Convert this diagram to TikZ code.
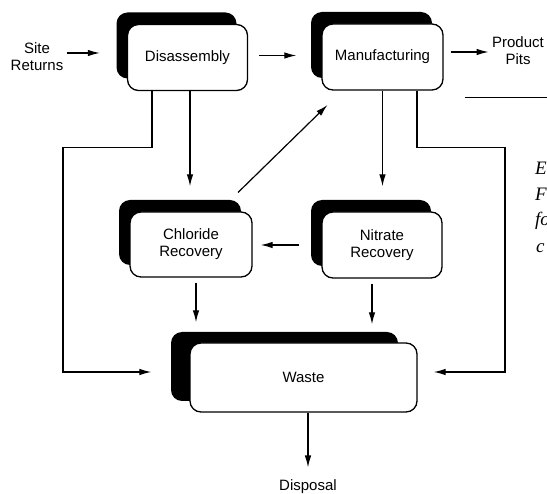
\documentclass[tikz,border=0pt]{standalone}
\usepackage{fontspec}
\setsansfont{Liberation Sans}
\newfontfamily\pagefont{Liberation Serif}
\usetikzlibrary{arrows.meta,shadows}
\tikzset{%
	box/.style      = {draw, rectangle, rounded corners=11pt, fill=white, line width=1.3pt, minimum width=120pt, minimum height=66pt, text centered, align=center, font=\sffamily\fontsize{15}{17}\selectfont},
	unit/.style     = {box, drop shadow={shadow xshift=-11pt, shadow yshift=12pt, fill=black, opacity=1}},
	bigunit/.style  = {box, minimum width=227pt, minimum height=69pt, drop shadow={shadow xshift=-19pt, shadow yshift=11pt, fill=black, opacity=1}},
	tag/.style      = {align=center, font=\sffamily\fontsize{15}{17}\selectfont},
	pagetext/.style = {anchor=west, inner sep=0pt, font=\pagefont\itshape\fontsize{19}{20}\selectfont},
	flow/.style     = {line width=1.2pt, -{Latex[length=12pt,width=6.5pt]}},
}

\begin{document}
\begin{tikzpicture}[x=1pt,y=-1pt]
	\path[use as bounding box, clip] (0,0) rectangle (547,494);
	
	\node[unit] (dis) at (187.5,57.5) {Disassembly};
	\node[unit, minimum width=121pt] (man) at (382.5,57) {Manufacturing};
	\node[unit, minimum width=122pt, minimum height=65pt] (chl) at (191,244.5) {Chloride\\Recovery};
	\node[unit] (nit) at (382,245) {Nitrate\\Recovery};
	\node[bigunit] (waste) at (303.5,377.5) {Waste};
	
	\node[tag] (site) at (37,57) {Site\\Returns};
	\node[tag] (pits) at (518,51) {Product\\Pits};
	\node[tag] (disp) at (308,487) {Disposal};
	
	\draw[flow, shorten >=27pt] ([yshift=4pt]site.east) -- ([yshift=4pt]site.east -| dis.west);
	\draw[flow, shorten <=11pt, shorten >=25pt] ([yshift=2pt]dis.east) -- ([yshift=2pt]dis.east -| man.west);
	\draw[flow, shorten <=7pt] ([yshift=5pt]man.east) -- ([yshift=5pt]man.east -| pits.west);
	
	\draw[flow, shorten >=25pt] ([xshift=2.5pt]dis.south) -- ([xshift=2.5pt]dis.south |- chl.north);
	\draw[flow, shorten >=38pt] ([xshift=-35.5pt]dis.south) -- ++(0,56) -| (63,372) -- ([yshift=5.5pt]waste.west);
	\draw[flow, shorten >=25pt] (man.south) -- (man.south |- nit.north);
	\draw[flow, shorten >=16pt] ([xshift=34.5pt]man.south) -- ++(0,57) -| (505,372) -- ([yshift=5.5pt]waste.east);
	
	\draw[flow] ([shift={(47,-52)}]chl.center) -- ([shift={(-55,48)}]man.center);
	\draw[flow, shorten <=22pt, shorten >=8pt] (nit.west) -- (nit.west -| chl.east);
	
	\draw[flow, shorten <=5pt, shorten >=20pt] ([xshift=5pt]chl.south) -- ([xshift=5pt]chl.south |- waste.north);
	\draw[flow, shorten <=5pt, shorten >=18pt] ([xshift=-10pt]nit.south) -- ([xshift=-10pt]nit.south |- waste.north);
	\draw[flow, shorten >=9pt] ([xshift=4.5pt]waste.south) -- ([xshift=4.5pt]waste.south |- disp.north);
	
	% page text cut at the edge
	\draw[line width=1pt] (465,98) -- (547,98);
	\node[pagetext] (e1) at (535,168) {E};
	\node[pagetext] (e2) at (535,194) {F};
	\node[pagetext] (e3) at (535,221) {fo};
	\node[pagetext] (e4) at (536,248) {c};
\end{tikzpicture}
\end{document}
